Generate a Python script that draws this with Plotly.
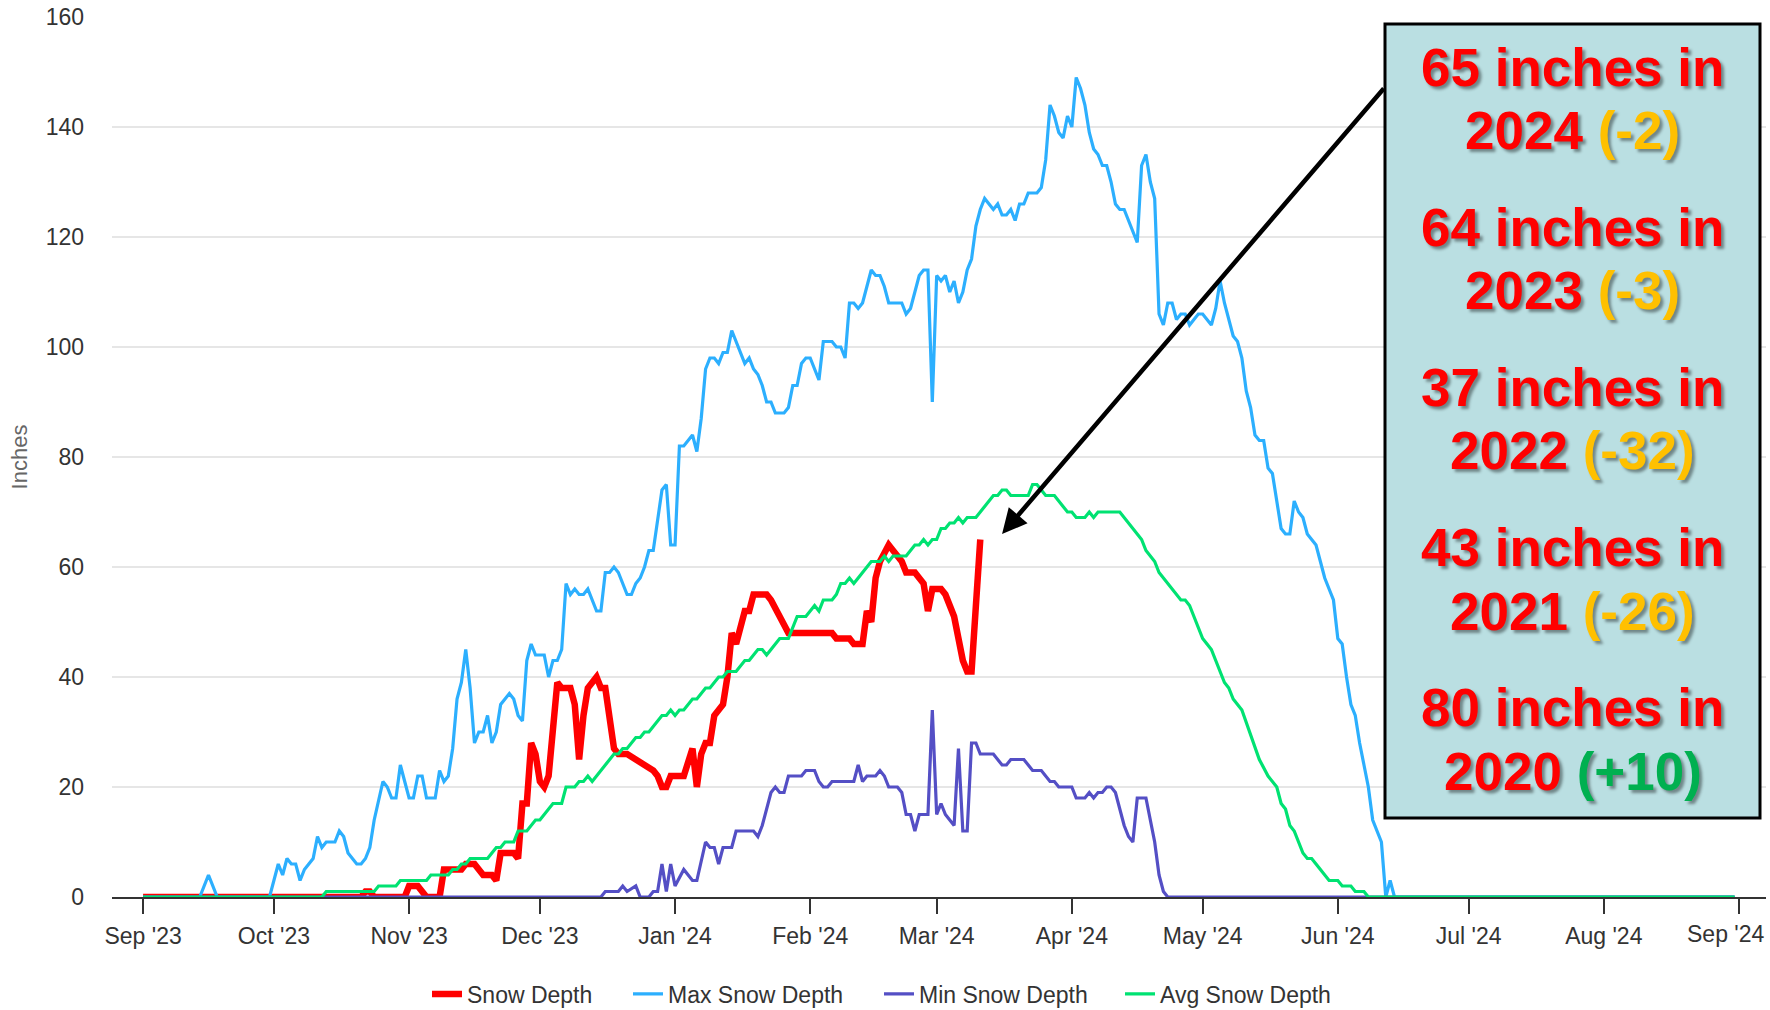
import pandas as pd
import plotly.graph_objects as go

# ---------------- data (days counted from 1 Sep 2023) ----------------
START = pd.Timestamp("2023-09-01")

snow_days = [0, 50, 51, 52, 53, 60, 61, 63, 64, 65,
             68, 69, 73, 74, 76, 78, 80, 81, 82, 85,
             86, 87, 88, 89, 90, 91, 92, 93, 95, 96,
             98, 99, 100, 101, 102, 104, 105, 106, 108, 109,
             111, 113, 115, 117, 118, 119, 120, 121, 124, 126,
             127, 128, 129, 130, 131, 133, 134, 135, 136, 137,
             138, 139, 140, 143, 144, 146, 148, 158, 159, 162,
             163, 165, 166, 167, 168, 169, 171, 172, 174, 175,
             177, 179, 180, 181, 183, 184, 185, 186, 187, 188,
             189, 190, 192]
snow_vals = [0, 0, 1, 1, 0, 0, 2, 2, 1, 0,
             0, 5, 5, 6, 6, 4, 4, 3, 8, 8,
             7, 17, 17, 28, 26, 21, 20, 22, 39, 38,
             38, 35, 25, 33, 38, 40, 38, 38, 27, 26,
             26, 25, 24, 23, 22, 20, 20, 22, 22, 27,
             20, 26, 28, 28, 33, 35, 40, 48, 46, 49,
             52, 52, 55, 55, 54, 51, 48, 48, 47, 47,
             46, 46, 52, 50, 58, 61, 64, 63, 61, 59,
             59, 57, 52, 56, 56, 55, 53, 51, 47, 43,
             41, 41, 65]

max_days = [0, 13, 15, 17, 29, 31, 32, 33, 34, 35,
            36, 37, 39, 40, 41, 42, 44, 45, 46, 47,
            49, 50, 51, 52, 53, 55, 56, 57, 58, 59,
            60, 61, 62, 63, 64, 65, 67, 68, 69, 70,
            71, 72, 73, 74, 75, 76, 77, 78, 79, 80,
            81, 82, 84, 85, 86, 87, 88, 89, 90, 92,
            93, 94, 95, 96, 97, 98, 99, 100, 101, 102,
            104, 105, 106, 107, 108, 109, 111, 112, 113, 114,
            115, 116, 117, 118, 119, 120, 121, 122, 123, 124,
            126, 127, 128, 129, 130, 131, 132, 133, 134, 135,
            138, 139, 140, 141, 142, 143, 144, 145, 147, 148,
            149, 150, 151, 152, 153, 155, 156, 158, 159, 160,
            161, 162, 163, 164, 165, 167, 168, 169, 170, 171,
            174, 175, 176, 178, 179, 180, 181, 182, 183, 184,
            185, 186, 187, 188, 189, 190, 191, 192, 193, 195,
            196, 197, 198, 199, 200, 201, 202, 203, 205, 206,
            207, 208, 209, 210, 211, 212, 213, 214, 215, 216,
            217, 218, 219, 220, 221, 222, 223, 224, 225, 228,
            229, 230, 231, 232, 233, 234, 235, 236, 237, 238,
            239, 240, 241, 242, 243, 244, 245, 246, 247, 248,
            249, 250, 251, 252, 253, 254, 255, 256, 257, 258,
            259, 260, 261, 262, 263, 264, 265, 266, 267, 268,
            269, 270, 271, 272, 273, 274, 275, 276, 277, 278,
            279, 280, 281, 282, 283, 284, 285, 286, 287, 365]
max_vals = [0, 0, 4, 0, 0, 6, 4, 7, 6, 6,
            3, 5, 7, 11, 9, 10, 10, 12, 11, 8,
            6, 6, 7, 9, 14, 21, 20, 18, 18, 24,
            21, 18, 18, 22, 22, 18, 18, 23, 21, 22,
            27, 36, 39, 45, 38, 28, 30, 30, 33, 28,
            30, 35, 37, 36, 33, 32, 43, 46, 44, 44,
            40, 43, 43, 45, 57, 55, 56, 55, 55, 56,
            52, 52, 59, 59, 60, 59, 55, 55, 57, 58,
            60, 63, 63, 69, 74, 75, 64, 64, 82, 82,
            84, 81, 87, 96, 98, 98, 97, 99, 99, 103,
            97, 98, 96, 95, 93, 90, 90, 88, 88, 89,
            93, 93, 97, 98, 98, 94, 101, 101, 100, 100,
            98, 108, 108, 107, 108, 114, 113, 113, 111, 108,
            108, 106, 107, 113, 114, 114, 90, 113, 112, 113,
            110, 112, 108, 110, 114, 116, 122, 125, 127, 125,
            126, 124, 124, 125, 123, 126, 126, 128, 128, 129,
            134, 144, 142, 139, 138, 142, 140, 149, 147, 144,
            139, 136, 135, 133, 133, 130, 126, 125, 125, 119,
            133, 135, 130, 127, 106, 104, 108, 108, 105, 106,
            106, 104, 105, 106, 106, 105, 104, 107, 112, 108,
            105, 102, 101, 98, 92, 89, 84, 83, 83, 78,
            77, 72, 67, 66, 66, 72, 70, 69, 66, 65,
            64, 61, 58, 56, 54, 47, 46, 40, 35, 33,
            28, 24, 20, 14, 12, 10, 0, 3, 0, 0]

min_days = [0, 105, 106, 109, 110, 111, 113, 114, 116, 117,
            118, 119, 120, 121, 122, 124, 126, 127, 129, 130,
            131, 132, 133, 135, 136, 140, 141, 142, 144, 145,
            146, 147, 148, 151, 152, 154, 155, 156, 157, 158,
            163, 164, 165, 166, 168, 169, 170, 171, 173, 174,
            175, 176, 177, 178, 180, 181, 182, 183, 184, 186,
            187, 188, 189, 190, 191, 192, 195, 197, 198, 199,
            202, 204, 206, 208, 209, 210, 213, 214, 216, 217,
            218, 219, 220, 221, 222, 223, 225, 226, 227, 228,
            230, 231, 232, 233, 234, 235, 365]
min_vals = [0, 0, 1, 1, 2, 1, 2, 0, 0, 1,
            1, 6, 1, 6, 2, 5, 3, 3, 10, 9,
            9, 6, 9, 9, 12, 12, 11, 13, 19, 20,
            19, 19, 22, 22, 23, 23, 21, 20, 20, 21,
            21, 24, 21, 22, 22, 23, 22, 20, 20, 19,
            15, 15, 12, 15, 15, 34, 15, 17, 15, 13,
            27, 12, 12, 28, 28, 26, 26, 24, 24, 25,
            25, 23, 23, 21, 21, 20, 20, 18, 18, 19,
            18, 19, 19, 20, 20, 19, 13, 11, 10, 18,
            18, 14, 10, 4, 1, 0, 0]

avg_days = [0, 41, 42, 53, 54, 58, 59, 65, 66, 70,
            71, 72, 73, 74, 75, 79, 80, 81, 82, 83,
            85, 86, 88, 90, 91, 92, 93, 94, 96, 97,
            99, 100, 101, 102, 103, 105, 106, 107, 108, 109,
            110, 111, 112, 113, 114, 115, 116, 117, 118, 119,
            120, 121, 122, 123, 124, 125, 126, 127, 128, 129,
            130, 131, 132, 133, 134, 136, 137, 138, 139, 140,
            141, 142, 143, 144, 145, 146, 148, 149, 150, 152,
            153, 154, 155, 156, 158, 159, 160, 161, 162, 163,
            164, 165, 166, 167, 169, 170, 171, 172, 175, 176,
            177, 178, 179, 180, 181, 182, 183, 184, 185, 186,
            187, 188, 189, 191, 192, 193, 194, 195, 196, 197,
            198, 199, 203, 204, 205, 206, 207, 209, 210, 211,
            212, 213, 214, 216, 217, 218, 219, 224, 225, 226,
            227, 228, 229, 230, 231, 232, 233, 234, 235, 236,
            237, 238, 239, 240, 241, 242, 243, 244, 245, 246,
            247, 248, 249, 250, 251, 252, 256, 258, 260, 261,
            262, 263, 264, 265, 266, 267, 268, 269, 270, 271,
            272, 274, 275, 277, 278, 280, 281, 365]
avg_vals = [0, 0, 1, 1, 2, 2, 3, 3, 4, 4,
            5, 5, 6, 6, 7, 7, 8, 9, 9, 10,
            10, 12, 12, 14, 14, 15, 16, 17, 17, 20,
            20, 21, 21, 22, 21, 23, 24, 25, 26, 26,
            27, 27, 28, 29, 29, 30, 30, 31, 32, 33,
            33, 34, 33, 34, 34, 35, 36, 36, 37, 38,
            38, 39, 40, 40, 41, 41, 42, 43, 43, 44,
            45, 45, 44, 45, 46, 47, 47, 49, 51, 51,
            52, 53, 52, 54, 54, 55, 57, 57, 58, 57,
            58, 59, 60, 61, 61, 62, 61, 62, 62, 63,
            64, 64, 65, 64, 65, 65, 67, 67, 68, 68,
            69, 68, 69, 69, 70, 71, 72, 73, 73, 74,
            74, 73, 73, 75, 75, 74, 73, 73, 72, 71,
            70, 70, 69, 69, 70, 69, 70, 70, 69, 68,
            67, 66, 65, 63, 62, 61, 59, 58, 57, 56,
            55, 54, 54, 53, 51, 49, 47, 46, 45, 43,
            41, 39, 38, 36, 35, 34, 25, 22, 20, 17,
            16, 13, 12, 10, 8, 7, 7, 6, 5, 4,
            3, 3, 2, 2, 1, 1, 0, 0]

series_names = ["Snow Depth", "Max Snow Depth", "Min Snow Depth", "Avg Snow Depth"]
series_colors = ["#FF0000", "#2CAFFE", "#544FC5", "#00E272"]
series_widths = [6.5, 3.2, 3.2, 3.2]

month_labels = ["Sep '23", "Oct '23", "Nov '23", "Dec '23", "Jan '24", "Feb '24", "Mar '24",
                "Apr '24", "May '24", "Jun '24", "Jul '24", "Aug '24", "Sep '24"]

box_depths = [65, 64, 37, 43, 80]
box_years = [2024, 2023, 2022, 2021, 2020]
box_diffs = ["-2", "-3", "-32", "-26", "+10"]
box_diff_colors = ["#FFC000", "#FFC000", "#FFC000", "#FFC000", "#00B050"]

arrow_day, arrow_val = 197, 66

# ---------------- layout geometry (page pixels) ----------------
W, H = 1770, 1010
L, R, T, B = 112, 4, 17, 113
PW, PH = W - L - R, H - T - B


def px(x):
    return (x - L) / PW


def py(y):
    return (H - B - y) / PH


def to_dates(days):
    return [START + pd.Timedelta(days=d) for d in days]


FONT = "Liberation Sans, Arial, sans-serif"
legend_ids = ["legend", "legend2", "legend3", "legend4"]
legend_left = [427, 628, 879, 1120]

fig = go.Figure()
all_days = [snow_days, max_days, min_days, avg_days]
all_vals = [snow_vals, max_vals, min_vals, avg_vals]
for name, col, wid, d, v, lg in zip(series_names, series_colors, series_widths,
                                    all_days, all_vals, legend_ids):
    fig.add_trace(go.Scatter(
        x=to_dates(d), y=v, mode="lines", name=name, legend=lg,
        line=dict(color=col, width=wid),
    ))

x_left = START + pd.Timedelta(days=-7.13)
x_right = START + pd.Timedelta(days=372.2)
month_ticks = list(pd.date_range("2023-09-01", "2024-09-01", freq="MS"))
tick_text = month_labels[:-1] + [""]

legend_common = dict(orientation="h", xanchor="left", yanchor="middle", y=py(994),
                     font=dict(family=FONT, size=23, color="#333333"),
                     bgcolor="rgba(0,0,0,0)")
legends = {lg: dict(legend_common, x=px(xl)) for lg, xl in zip(legend_ids, legend_left)}

fig.update_layout(
    width=W, height=H,
    margin=dict(l=L, r=R, t=T, b=B, autoexpand=False),
    plot_bgcolor="white", paper_bgcolor="white",
    font=dict(family=FONT, size=23, color="#333333"),
    showlegend=True,
    xaxis=dict(
        type="date", range=[x_left, x_right],
        tickmode="array", tickvals=month_ticks, ticktext=tick_text,
        ticks="outside", ticklen=15, tickwidth=2, tickcolor="#333333",
        showline=True, linecolor="#333333", linewidth=2,
        showgrid=False, zeroline=False, layer="below traces",
        tickfont=dict(family=FONT, size=23, color="#333333"), ticklabelstandoff=2,
        ticklabeloverflow="allow",
    ),
    yaxis=dict(
        range=[0, 160], dtick=20, tick0=0,
        showgrid=True, gridcolor="#E6E6E6", gridwidth=1.5,
        zeroline=False, showline=False, ticks="",
        tickfont=dict(family=FONT, size=23, color="#333333"), ticklabelstandoff=27,
        title=dict(text="Inches", font=dict(family=FONT, size=22, color="#666666"), standoff=11),
    ),
    **legends,
)

# last month label, kept inside the chart like the original
fig.add_annotation(xref="paper", yref="paper", x=px(1766), y=py(934),
                   xanchor="right", yanchor="middle", showarrow=False,
                   text=month_labels[-1], font=dict(family=FONT, size=23, color="#333333"))

# text box
fig.add_shape(type="rect", xref="paper", yref="paper",
              x0=px(1385), x1=px(1760), y0=py(818), y1=py(24),
              fillcolor="#BADFE2", line=dict(color="black", width=3), layer="above")

shadow = "3px 3px 3px rgba(0,0,0,0.4)"
box_cx = px(1572.5)
line_ys = [67.8, 130.8, 227, 290.8, 387.5, 450.8, 547.3, 611, 707.3, 771]
for i, (dep, yr, df, dc) in enumerate(zip(box_depths, box_years, box_diffs, box_diff_colors)):
    t1 = f"<b>{dep} inches in</b>"
    t2 = f"<b>{yr} <span style='color:{dc}'>({df})</span></b>"
    for t, yy in ((t1, line_ys[2 * i]), (t2, line_ys[2 * i + 1])):
        fig.add_annotation(xref="paper", yref="paper", x=box_cx, y=py(yy),
                           xanchor="center", yanchor="middle", showarrow=False,
                           text=t, font=dict(family=FONT, size=53, color="#FF0000", shadow=shadow))

# arrow
fig.add_annotation(x=START + pd.Timedelta(days=arrow_day), y=arrow_val, xref="x", yref="y",
                   ax=383, ay=-447, axref="pixel", ayref="pixel",
                   text="", showarrow=True, arrowhead=2, arrowsize=1.1, arrowwidth=4.5,
                   arrowcolor="black", standoff=0)

fig.write_html("out.html", config={"displayModeBar": False},
               post_script="document.body.style.margin='0px';document.body.style.overflow='hidden';")
